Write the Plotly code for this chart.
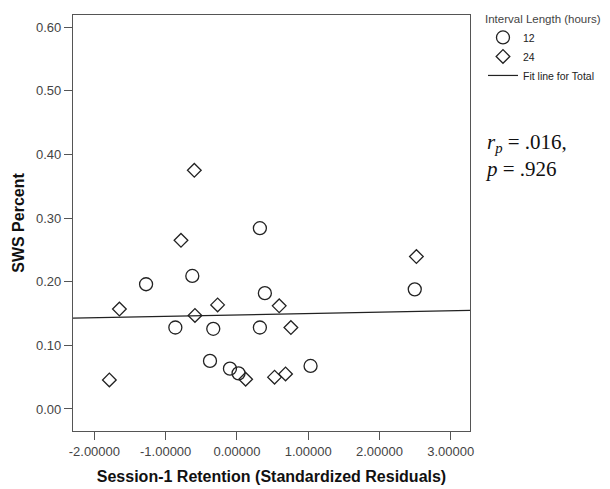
import plotly.graph_objects as go

# 12-hour interval (circles)
x12 = [0.322, -1.275, -0.626, 0.392, -0.864, -0.332, 0.322, -0.378, -0.098, 0.023, 1.033, 2.495]
y12 = [0.284, 0.196, 0.209, 0.182, 0.128, 0.126, 0.128, 0.0755, 0.0634, 0.056, 0.0676, 0.188]
# 24-hour interval (diamonds)
x24 = [-0.598, -0.785, -1.649, -0.589, -0.271, 0.593, 0.757, -1.79, 0.122, 0.528, 0.682, 2.518]
y24 = [0.375, 0.265, 0.157, 0.147, 0.1635, 0.162, 0.128, 0.0456, 0.0467, 0.050, 0.055, 0.2395]
# Fit line for total (endpoints read at axis limits)
fit_x = [-2.30, 3.27]
fit_y = [0.1426, 0.155]

x_ticks = [-2, -1, 0, 1, 2, 3]
x_ticklabels = ["-2.00000", "-1.00000", "0.00000", "1.00000", "2.00000", "3.00000"]
y_ticks = [0.0, 0.1, 0.2, 0.3, 0.4, 0.5, 0.6]
y_ticklabels = ["0.00", "0.10", "0.20", "0.30", "0.40", "0.50", "0.60"]

fig = go.Figure()
fig.add_trace(go.Scatter(x=x12, y=y12, mode="markers", name="12",
                         marker=dict(symbol="circle-open", size=13, color="#222",
                                     line=dict(width=1.3, color="#222"))))
fig.add_trace(go.Scatter(x=x24, y=y24, mode="markers", name="24",
                         marker=dict(symbol="diamond-open", size=10.5, color="#222",
                                     line=dict(width=1.3, color="#222"))))
fig.add_trace(go.Scatter(x=fit_x, y=fit_y, mode="lines", name="Fit line for Total",
                         line=dict(color="#222", width=1.2)))

axis_common = dict(showline=True, linecolor="#555", linewidth=1.2, mirror=True,
                   ticks="outside", ticklen=8, tickcolor="#555", tickwidth=1.2,
                   showgrid=False, zeroline=False, automargin=False,
                   tickfont=dict(family="Liberation Sans, Arial", size=13, color="#444"))

fig.update_layout(
    width=602, height=481,
    margin=dict(l=65, r=139.5, t=7, b=58),
    paper_bgcolor="white", plot_bgcolor="white",
    xaxis=dict(range=[-2.30, 3.27], tickvals=x_ticks, ticktext=x_ticklabels,
               title=dict(text="<b>Session-1 Retention (Standardized Residuals)</b>", standoff=13,
                          font=dict(family="Liberation Sans, Arial", size=16, color="#111")),
               **axis_common),
    yaxis=dict(range=[-0.0346, 0.619], tickvals=y_ticks, ticktext=y_ticklabels,
               title=dict(text="<b>SWS Percent</b>", standoff=7,
                          font=dict(family="Liberation Sans, Arial", size=16, color="#111")),
               **axis_common),
    legend=dict(title=dict(text="Interval Length (hours)",
                           font=dict(family="Liberation Sans, Arial", size=11.5, color="#444")),
                font=dict(family="Liberation Sans, Arial", size=10.5, color="#222"),
                xref="container", yref="container",
                x=0.789, y=1.0, xanchor="left", yanchor="top",
                bgcolor="rgba(0,0,0,0)", tracegroupgap=0, itemwidth=30),
    annotations=[dict(text="<i>r<sub>p</sub></i> = .016,<br><i>p</i> = .926",
                      xref="paper", yref="paper", x=1.034, y=0.663, xanchor="left", yanchor="middle",
                      align="left", showarrow=False,
                      font=dict(family="Liberation Serif, Times New Roman", size=21, color="#111"))],
)

fig.write_html("out.html")
